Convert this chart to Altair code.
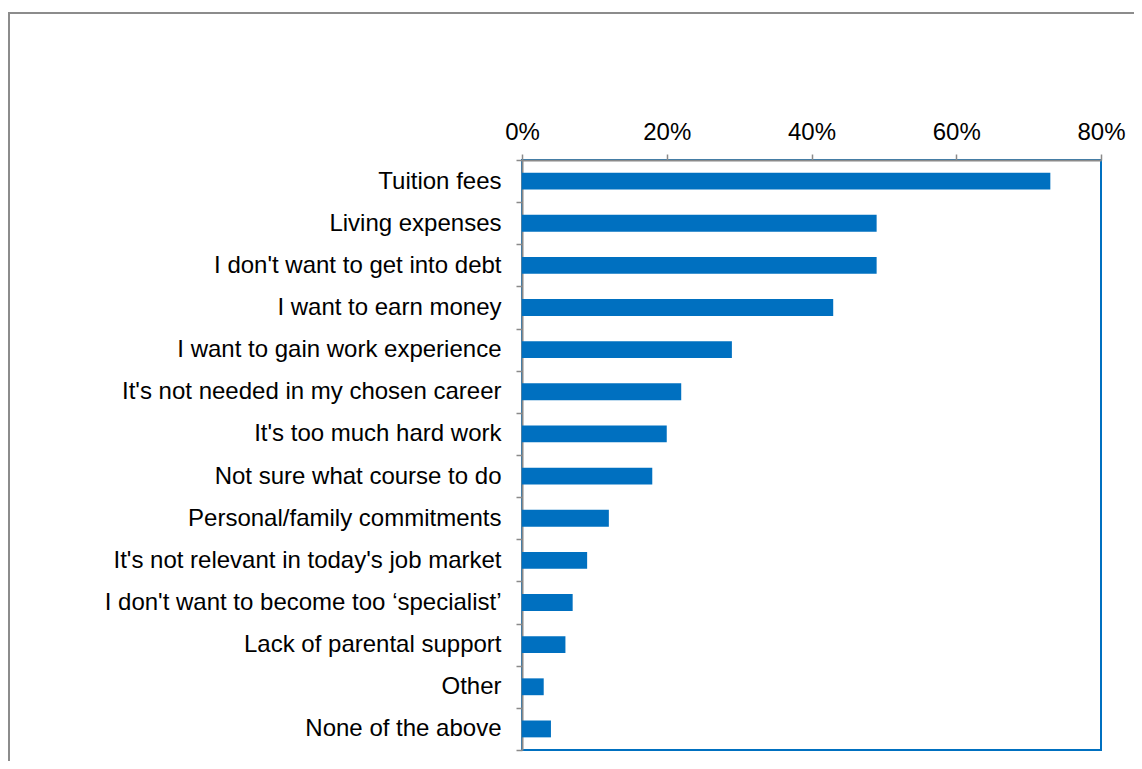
import altair as alt
import pandas as pd

categories = [
    "Tuition fees",
    "Living expenses",
    "I don't want to get into debt",
    "I want to earn money",
    "I want to gain work experience",
    "It's not needed in my chosen career",
    "It's too much hard work",
    "Not sure what course to do",
    "Personal/family commitments",
    "It's not relevant in today's job market",
    "I don't want to become too \u2018specialist\u2019",
    "Lack of parental support",
    "Other",
    "None of the above",
]
values = [73, 49, 49, 43, 29, 22, 20, 18, 12, 9, 7, 6, 3, 4]
tick_values = [0, 20, 40, 60, 80]

df = pd.DataFrame({"reason": categories, "pct": values})

FONT = "Liberation Sans"
GRAY = "#8a8a8a"
BLUE = "#0070C0"
FS = 24

bars = alt.Chart(df).mark_bar(color=BLUE, height={"band": 0.4}).encode(
    x=alt.X(
        "pct:Q",
        scale=alt.Scale(domain=[0, 80], nice=False),
        axis=alt.Axis(
            orient="top",
            values=tick_values,
            labelExpr="datum.value + '%'",
            title=None,
            grid=False,
            domainColor=GRAY,
            domainWidth=2,
            tickColor=GRAY,
            tickWidth=1.5,
            tickSize=6,
            labelPadding=10,
            labelFlush=False,
            labelFont=FONT,
            labelFontSize=FS,
            labelColor="#000000",
        ),
    ),
    y=alt.Y(
        "reason:N",
        sort=categories,
        scale=alt.Scale(paddingInner=0, paddingOuter=0),
        axis=alt.Axis(
            title=None,
            tickBand="extent",
            domainColor=GRAY,
            domainWidth=2,
            tickColor=GRAY,
            tickWidth=1.5,
            tickSize=6,
            labelPadding=15,
            labelFont=FONT,
            labelFontSize=FS,
            labelColor="#000000",
            labelLimit=600,
        ),
    ),
)

frame = alt.Chart(alt.Data(values=[{"f": 1}])).mark_rect(
    fill=None, stroke="#8c8c8c", strokeWidth=2
).encode(
    x=alt.value(-513),
    x2=alt.value(1000),
    y=alt.value(-147),
    y2=alt.value(1000),
)

chart = alt.layer(frame, bars).properties(
    width=579,
    height=590,
    background="white",
    autosize=alt.AutoSizeParams(type="none"),
    padding={"left": 514, "top": 152, "right": 33, "bottom": 11},
).configure_view(
    stroke=BLUE, strokeWidth=2
)

chart.save("out.html", embed_options={"renderer": "svg", "actions": False})
